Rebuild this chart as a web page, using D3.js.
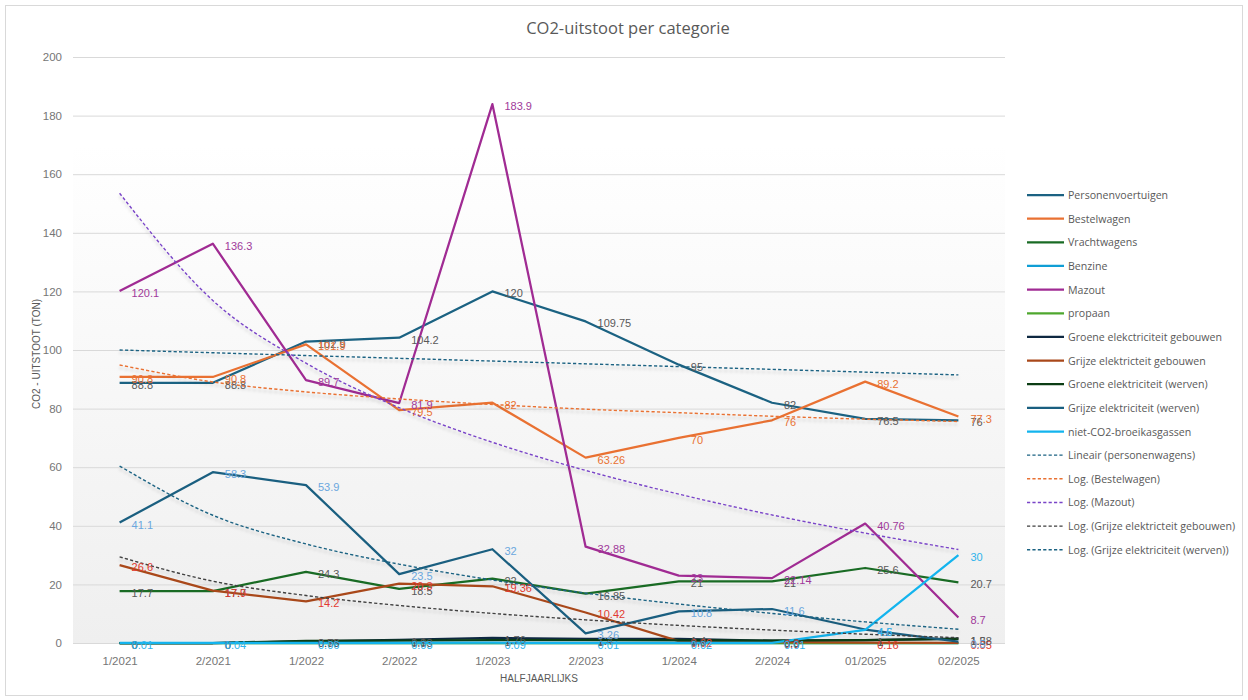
<!DOCTYPE html>
<html>
<head>
<meta charset="utf-8">
<script src="https://cdn.jsdelivr.net/npm/d3@7"></script>
<style>
  html, body { margin: 0; padding: 0; background: #ffffff; }
  svg { display: block; }
</style>
</head>
<body>
<svg id="chart" width="1248" height="700"></svg>
<script>
// Half-year periods
const categories = ["1/2021", "2/2021", "1/2022", "2/2022", "1/2023", "2/2023", "1/2024", "2/2024", "01/2025", "02/2025"];
const yTicks = [0, 20, 40, 60, 80, 100, 120, 140, 160, 180, 200];

// CO2 emissions (ton) per category
const personenvoertuigen = [88.8, 88.8, 102.9, 104.2, 120, 109.75, 95, 82, 76.5, 76];
const bestelwagen = [90.8, 90.8, 101.9, 79.5, 82, 63.26, 70, 76, 89.2, 77.3];
const vrachtwagens = [17.7, 17.7, 24.3, 18.5, 22, 16.85, 21, 21, 25.6, 20.7];
const benzine = [0, 0, 0, 0, 0, 0, 0, 0, 0, 0];
const mazout = [120.1, 136.3, 89.7, 81.9, 183.9, 32.88, 23, 22.14, 40.76, 8.7];
const propaan = [0, 0, 0, 0, 0, 0, 0, 0, 0, 0];
const groeneElekGebouwen = [0, 0, 0.56, 1.1, 1.76, 1.4, 1.4, 0.8, 1.0, 1.5];
const grijzeElekGebouwen = [26.6, 17.9, 14.2, 20.3, 19.36, 10.42, 0.62, 0.3, 0.16, 0.05];
const groeneElekWerven = [0, 0, 0.76, 0.83, 1.0, 1.0, 0.9, 0.8, 1.0, 1.38];
const grijzeElekWerven = [41.1, 58.3, 53.9, 23.5, 32, 3.26, 10.8, 11.6, 4.6, 0.5];
const nietCO2 = [0.01, 0.04, 0.06, 0.03, 0.09, 0.01, 0.02, 0.01, 4.5, 30];

// Trendlines (values at the period positions)
const trendLineairPersonen = [100.0, 91.5]; // first and last period
const trendLogBestelwagen = [94.9, 89.1, 85.7, 83.3, 81.4, 79.8, 78.6, 77.4, 76.4, 75.6];
const trendLogMazout = [153.5, 116.9, 95.5, 80.3, 68.5, 58.9, 50.8, 43.7, 37.5, 31.9];
const trendLogGrijzeGebouwen = [29.4, 21.1, 16.2, 12.8, 10.1, 7.9, 6.0, 4.4, 3.0, 1.8];
const trendLogGrijzeWerven = [60.4, 43.6, 33.8, 26.9, 21.5, 17.0, 13.3, 10.1, 7.2, 4.7];

const series = [
  { name: "Personenvoertuigen", values: personenvoertuigen, color: "#1b6282", label: "#595959" },
  { name: "Bestelwagen", values: bestelwagen, color: "#e97132", label: "#e97132" },
  { name: "Vrachtwagens", values: vrachtwagens, color: "#196b24", label: "#595959" },
  { name: "Benzine", values: benzine, color: "#0f9ed5", label: null },
  { name: "Mazout", values: mazout, color: "#a02b93", label: "#a0399a" },
  { name: "propaan", values: propaan, color: "#4ea72e", label: null },
  { name: "Groene elekctriciteit gebouwen", values: groeneElekGebouwen, color: "#0e2841", label: "#595959" },
  { name: "Grijze elektricteit gebouwen", values: grijzeElekGebouwen, color: "#a9481a", label: "#e23b30" },
  { name: "Groene elektriciteit (werven)", values: groeneElekWerven, color: "#0c3d14", label: "#595959" },
  { name: "Grijze elektriciteit (werven)", values: grijzeElekWerven, color: "#1a5f80", label: "#6aa7de" },
  { name: "niet-CO2-broeikasgassen", values: nietCO2, color: "#13b4ee", label: "#2fb4ec" }
];

const trends = [
  { name: "Lineair (personenwagens)", values: trendLineairPersonen, idx: [0, categories.length - 1], color: "#1b6282", curve: d3.curveLinear },
  { name: "Log. (Bestelwagen)", values: trendLogBestelwagen, color: "#e97132", curve: d3.curveMonotoneX },
  { name: "Log. (Mazout)", values: trendLogMazout, color: "#7a45c8", curve: d3.curveMonotoneX },
  { name: "Log. (Grijze elektricteit gebouwen)", values: trendLogGrijzeGebouwen, color: "#3f3f3f", curve: d3.curveMonotoneX },
  { name: "Log. (Grijze elektriciteit (werven))", values: trendLogGrijzeWerven, color: "#1b6282", curve: d3.curveMonotoneX }
];

const svg = d3.select("#chart");
const plot = { left: 73, right: 1005, top: 57, bottom: 643 };

const x = d3.scalePoint().domain(categories).range([plot.left, plot.right]).padding(0.5);
const y = d3.scaleLinear().domain([0, 200]).range([plot.bottom, plot.top]);

const defs = svg.append("defs");
const grad = defs.append("linearGradient").attr("id", "plotFill").attr("x1", 0).attr("y1", 0).attr("x2", 0).attr("y2", 1);
grad.append("stop").attr("offset", "0%").attr("stop-color", "#ffffff");
grad.append("stop").attr("offset", "15%").attr("stop-color", "#ffffff");
grad.append("stop").attr("offset", "100%").attr("stop-color", "#efefef");

const shadow = defs.append("filter").attr("id", "trendShadow")
  .attr("x", "-5%").attr("y", "-20%").attr("width", "110%").attr("height", "140%");
shadow.append("feDropShadow").attr("dx", 0).attr("dy", 3).attr("stdDeviation", 1.6)
  .attr("flood-color", "#000000").attr("flood-opacity", 0.18);

// Chart frame
svg.append("rect").attr("x", 5.5).attr("y", 5.5).attr("width", 1237).attr("height", 690)
  .attr("fill", "#ffffff").attr("stroke", "#d9d9d9");

// Plot area background
svg.append("rect")
  .attr("x", plot.left).attr("y", plot.top)
  .attr("width", plot.right - plot.left).attr("height", plot.bottom - plot.top)
  .attr("fill", "url(#plotFill)");

// Horizontal gridlines
svg.append("g")
  .attr("transform", `translate(${plot.left},0)`)
  .call(d3.axisLeft(y).tickValues(yTicks).tickSize(-(plot.right - plot.left)).tickFormat(""))
  .call(g => g.select(".domain").remove())
  .call(g => g.selectAll("line").attr("stroke", "#d9d9d9").attr("stroke-width", 1));

// Y-axis tick labels
svg.append("g")
  .attr("transform", `translate(${plot.left - 11},0)`)
  .call(d3.axisLeft(y).tickValues(yTicks).tickSize(0).tickPadding(0))
  .call(g => g.select(".domain").remove())
  .call(g => g.selectAll("text")
    .attr("fill", "#767676").attr("font-family", "Liberation Sans, Arial, sans-serif").attr("font-size", "11.5px"));

// X-axis tick labels
svg.append("g")
  .attr("transform", `translate(0,${plot.bottom + 9})`)
  .call(d3.axisBottom(x).tickSize(0).tickPadding(5))
  .call(g => g.select(".domain").remove())
  .call(g => g.selectAll("text")
    .attr("fill", "#767676").attr("font-family", "Liberation Sans, Arial, sans-serif").attr("font-size", "11.5px"));

// Titles
svg.append("text").attr("x", 628).attr("y", 34).attr("text-anchor", "middle")
  .attr("font-family", "Open Sans, sans-serif").attr("font-size", "16.5px").attr("fill", "#595959")
  .text("CO2-uitstoot per categorie");

svg.append("text").attr("transform", `translate(36,${(plot.top + plot.bottom) / 2 + 4}) rotate(-90)`)
  .attr("text-anchor", "middle").attr("dominant-baseline", "central")
  .attr("font-family", "Liberation Sans, Arial, sans-serif").attr("font-size", "10px").attr("fill", "#595959")
  .text("CO2 - UITSTOOT (TON)");

svg.append("text").attr("x", (plot.left + plot.right) / 2).attr("y", 682).attr("text-anchor", "middle")
  .attr("font-family", "Liberation Sans, Arial, sans-serif").attr("font-size", "10px").attr("fill", "#595959")
  .text("HALFJAARLIJKS");

// Data lines
const line = d3.line().x((d, i) => x(categories[i])).y(d => y(d));
const linesG = svg.append("g");
series.forEach(s => {
  linesG.append("path")
    .datum(s.values)
    .attr("fill", "none")
    .attr("stroke", s.color)
    .attr("stroke-width", 2.25)
    .attr("stroke-linejoin", "round")
    .attr("d", line);
});

// Trendlines
const trendG = svg.append("g").attr("filter", "url(#trendShadow)");
trends.forEach(t => {
  const idx = t.idx || t.values.map((_, i) => i);
  const tl = d3.line().x((d, i) => x(categories[idx[i]])).y(d => y(d)).curve(t.curve);
  trendG.append("path")
    .datum(t.values)
    .attr("fill", "none")
    .attr("stroke", t.color)
    .attr("stroke-width", 1.4)
    .attr("stroke-dasharray", "3.2,2.2")
    .attr("d", tl);
});

// Data labels
const labelsG = svg.append("g")
  .attr("font-family", "Liberation Sans, Arial, sans-serif").attr("font-size", "11px");
series.filter(s => s.label).forEach(s => {
  labelsG.selectAll(null)
    .data(s.values)
    .join("text")
    .attr("x", (d, i) => x(categories[i]) + 12)
    .attr("y", d => y(d) + 2)
    .attr("dominant-baseline", "central")
    .attr("fill", s.label)
    .text(d => String(d));
});

// Legend
const legendItems = series.map(s => ({ name: s.name, color: s.color, dashed: false }))
  .concat(trends.map(t => ({ name: t.name, color: t.color, dashed: true })));
const legend = svg.append("g").attr("transform", "translate(1027,195)");
legendItems.forEach((item, i) => {
  const g = legend.append("g").attr("transform", `translate(0,${i * 23.65})`);
  g.append("line").attr("x1", 0).attr("x2", 37).attr("y1", 0).attr("y2", 0)
    .attr("stroke", item.color)
    .attr("stroke-width", item.dashed ? 1.4 : 2.25)
    .attr("stroke-dasharray", item.dashed ? "3.2,2.2" : null);
  g.append("text").attr("x", 41).attr("y", 0).attr("dominant-baseline", "central")
    .attr("font-family", "Open Sans, sans-serif").attr("font-size", "10.6px").attr("fill", "#595959")
    .text(item.name);
});
</script>
</body>
</html>
